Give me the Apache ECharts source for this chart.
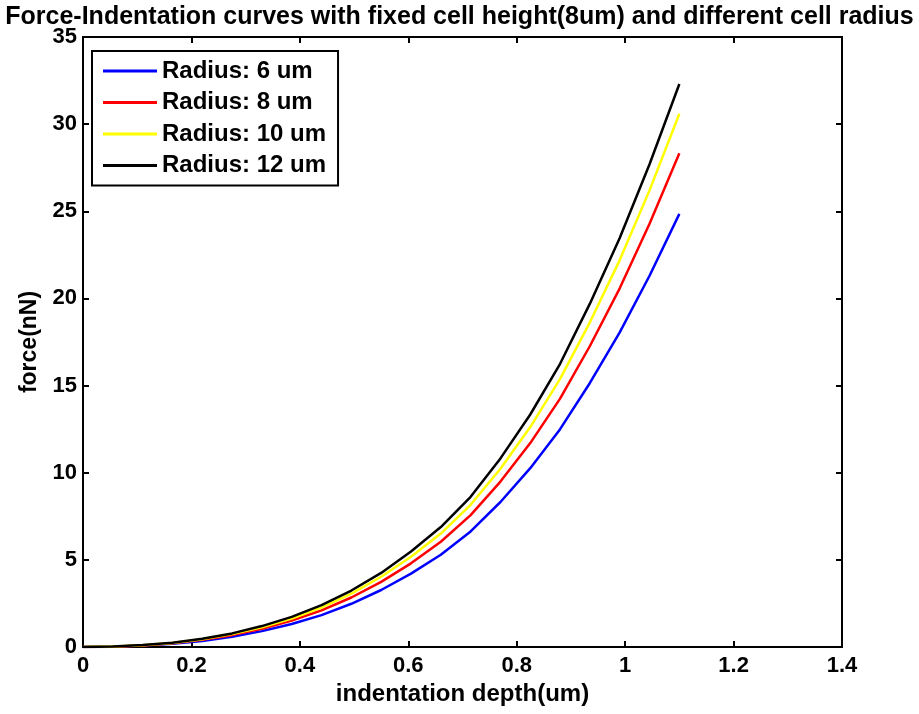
<!DOCTYPE html>
<html>
<head>
<meta charset="utf-8">
<script src="https://cdn.jsdelivr.net/npm/echarts@6/dist/echarts.min.js"></script>
<style>
html,body{margin:0;padding:0;background:#fff;}
#chart{width:919px;height:714px;}
</style>
</head>
<body>
<div id="chart"></div>
<script>
// indentation depth (um)
const depth = [0, 0.055, 0.11, 0.165, 0.22, 0.275, 0.33, 0.385, 0.44, 0.495, 0.55, 0.605, 0.66, 0.715, 0.77, 0.825, 0.88, 0.935, 0.99, 1.045, 1.1];
// force (nN) per radius
const radius6  = [0, 0.02, 0.08, 0.18, 0.35, 0.59, 0.91, 1.32, 1.83, 2.48, 3.27, 4.21, 5.29, 6.63, 8.32, 10.26, 12.5, 15.15, 18.05, 21.3, 24.85];
const radius8  = [0, 0.02, 0.09, 0.21, 0.41, 0.68, 1.05, 1.52, 2.10, 2.84, 3.74, 4.80, 6.04, 7.57, 9.49, 11.70, 14.25, 17.27, 20.58, 24.28, 28.33];
const radius10 = [0, 0.03, 0.10, 0.23, 0.44, 0.74, 1.13, 1.63, 2.26, 3.06, 4.03, 5.18, 6.51, 8.16, 10.23, 12.62, 15.38, 18.63, 22.2, 26.2, 30.6];
const radius12 = [0, 0.03, 0.11, 0.24, 0.47, 0.78, 1.20, 1.73, 2.40, 3.24, 4.25, 5.48, 6.88, 8.62, 10.82, 13.34, 16.25, 19.7, 23.47, 27.7, 32.3];
const seriesNames = ['Radius: 6 um', 'Radius: 8 um', 'Radius: 10 um', 'Radius: 12 um'];
const seriesColors = ['#0000ff', '#ff0000', '#ffff00', '#000000'];
const seriesData = [radius6, radius8, radius10, radius12];

const FONT = '"Liberation Sans", Arial, sans-serif';
const chart = echarts.init(document.getElementById('chart'), null, {renderer: 'canvas'});

const axisLine = {show: true, onZero: false, lineStyle: {color: '#000', width: 2}};
const axisTick = {show: true, inside: true, length: 6, lineStyle: {color: '#000', width: 2}};

chart.setOption({
  backgroundColor: '#fff',
  animation: false,
  title: {
    text: 'Force-Indentation curves with fixed cell height(8um) and different cell radius',
    left: 'center', top: 0,
    textStyle: {fontFamily: FONT, fontWeight: 'bold', fontSize: 25, color: '#000'}
  },
  grid: {left: 83, right: 77, top: 37, bottom: 67, containLabel: false},
  legend: {
    left: 92, top: 51, orient: 'vertical',
    data: seriesNames,
    icon: 'rect', itemWidth: 54, itemHeight: 3, itemGap: 7.5,
    padding: [8, 12, 8, 11],
    borderColor: '#000', borderWidth: 2, backgroundColor: '#fff',
    textStyle: {fontFamily: FONT, fontWeight: 'bold', fontSize: 24, color: '#000', lineHeight: 24}
  },
  xAxis: [{
    type: 'value', min: 0, max: 1.4, interval: 0.2, position: 'bottom',
    name: 'indentation depth(um)', nameLocation: 'middle', nameGap: 35,
    nameTextStyle: {fontFamily: FONT, fontWeight: 'bold', fontSize: 24, color: '#000'},
    axisLine, axisTick,
    axisLabel: {fontFamily: FONT, fontWeight: 'bold', fontSize: 22, color: '#000', margin: 8,
      formatter: v => String(Math.round(v * 10) / 10)},
    splitLine: {show: false}
  }, {
    type: 'value', min: 0, max: 1.4, interval: 0.2, position: 'top',
    axisLine, axisTick, axisLabel: {show: false}, splitLine: {show: false}
  }],
  yAxis: [{
    type: 'value', min: 0, max: 35, interval: 5, position: 'left',
    name: 'force(nN)', nameLocation: 'middle', nameGap: 41,
    nameTextStyle: {fontFamily: FONT, fontWeight: 'bold', fontSize: 23, color: '#000'},
    axisLine, axisTick,
    axisLabel: {fontFamily: FONT, fontWeight: 'bold', fontSize: 22, color: '#000', margin: 6},
    splitLine: {show: false}
  }, {
    type: 'value', min: 0, max: 35, interval: 5, position: 'right',
    axisLine, axisTick, axisLabel: {show: false}, splitLine: {show: false}
  }],
  series: seriesNames.map((n, i) => ({
    name: n, type: 'line', showSymbol: false, symbol: 'none',
    color: seriesColors[i],
    lineStyle: {color: seriesColors[i], width: 2.5},
    data: depth.map((x, j) => [x, seriesData[i][j]]),
    z: 2 + i
  }))
});
</script>
</body>
</html>
